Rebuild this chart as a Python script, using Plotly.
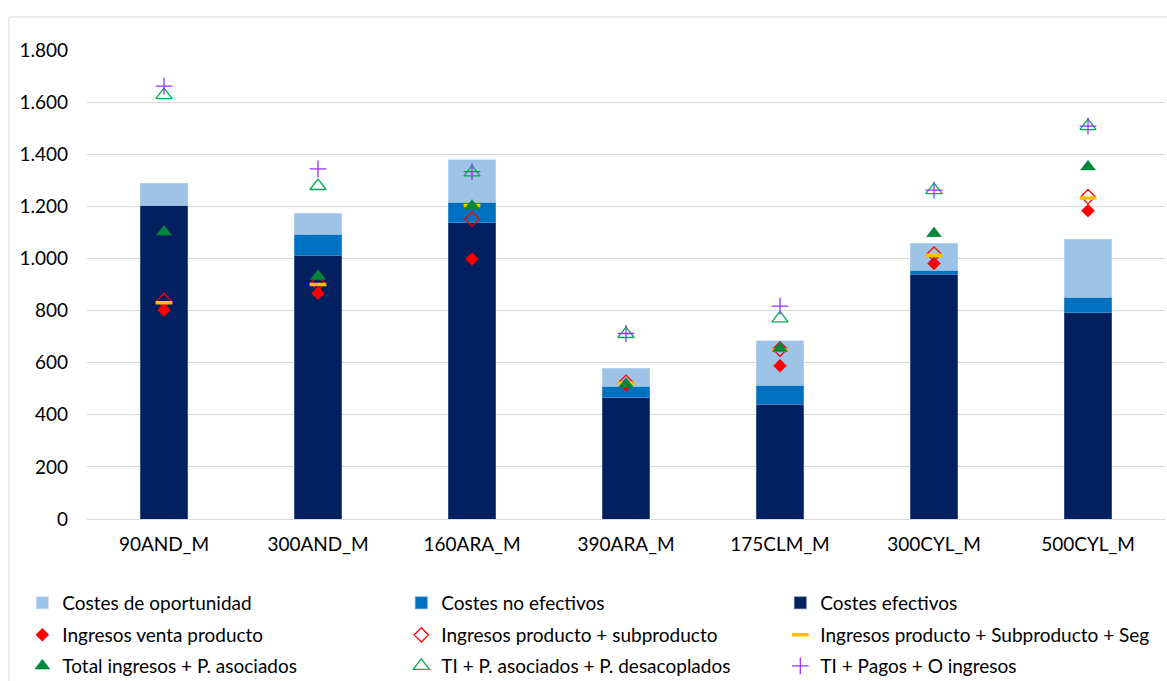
import plotly.graph_objects as go

categories = ["90AND_M", "300AND_M", "160ARA_M", "390ARA_M", "175CLM_M", "300CYL_M", "500CYL_M"]

costes_efectivos = [1205, 1012, 1137, 466, 440, 940, 792]
costes_no_efectivos = [0, 80, 79, 44, 74, 15, 60]
costes_oportunidad = [83, 81, 162, 68, 170, 103, 221]

ingresos_venta = [802, 866, 998, 515, 588, 981, 1183]
ingresos_prod_sub = [838, 905, 1151, 525, 652, 1017, 1237]
ingresos_prod_sub_seg = [830, 900, 1203, 521, 648, 1012, 1232]
total_ingresos_pa = [1102, 932, 1201, 517, 655, 1096, 1352]
ti_pa_pd = [1627, 1278, 1330, 710, 770, 1262, 1508]
ti_pagos_oi = [1661, 1344, 1333, 712, 817, 1262, 1508]

yticks = [0, 200, 400, 600, 800, 1000, 1200, 1400, 1600, 1800]

FONT = "Lato"
FS = 19
W, Hh = 1167, 681
fig = go.Figure()

# stacked bars (bottom to top)
fig.add_trace(go.Bar(x=categories, y=costes_efectivos, name="Costes efectivos",
                     marker=dict(color="#002060", line=dict(color="#5B6E99", width=0.6)),
                     legend="legend", legendrank=3))
fig.add_trace(go.Bar(x=categories, y=costes_no_efectivos, name="Costes no efectivos",
                     marker=dict(color="#0070C0", line=dict(color="#5B9BD5", width=0.6)),
                     legend="legend", legendrank=2))
fig.add_trace(go.Bar(x=categories, y=costes_oportunidad, name="Costes de oportunidad",
                     marker=dict(color="#9DC3E6", line=dict(color="#BDD7EE", width=0.6)),
                     legend="legend", legendrank=1))

def sc(y, name, symbol, size, color, lcolor, lw, legend, rank):
    fig.add_trace(go.Scatter(x=categories, y=y, name=name, mode="markers",
                             marker=dict(symbol=symbol, size=size, color=color,
                                         line=dict(color=lcolor, width=lw)),
                             legend=legend, legendrank=rank))

sc(ingresos_venta, "Ingresos venta producto", "diamond", 10, "#FF0000", "#FF0000", 0.5, "legend2", 1)
sc(ingresos_prod_sub, "Ingresos producto + subproducto", "diamond-open", 11, "#FF0000", "#FF0000", 1.3, "legend2", 2)
sc(ingresos_prod_sub_seg, "Ingresos producto + Subproducto + Seg", "line-ew", 12, "#FFC000", "#FFC000", 3.5, "legend2", 3)
sc(total_ingresos_pa, "Total ingresos + P. asociados", "triangle-up", 13, "#00873C", "#00873C", 0.5, "legend3", 1)
sc(ti_pa_pd, "TI + P. asociados + P. desacoplados", "triangle-up-open", 14, "#00B050", "#00B050", 1.3, "legend3", 2)
sc(ti_pagos_oi, "TI + Pagos + O ingresos", "cross-thin-open", 12, "#9933FF", "#9933FF", 1.3, "legend3", 3)

H = 469.0
def ly(px):
    return (519 - px) / H

leg_common = dict(orientation="h", xanchor="left", yanchor="middle", x=-0.06,
                  entrywidth=334, entrywidthmode="pixels", traceorder="normal",
                  font=dict(family=FONT, size=FS, color="#000000"),
                  bgcolor="rgba(0,0,0,0)", itemclick=False)

fig.update_layout(
    width=W, height=Hh,
    barmode="stack", bargap=0.69,
    separators=",.",
    plot_bgcolor="white", paper_bgcolor="white",
    font=dict(family=FONT, size=FS, color="#000000"),
    margin=dict(l=87, r=2, t=50, b=162, autoexpand=False),
    legend=dict(**leg_common, y=ly(603)),
    legend2=dict(**leg_common, y=ly(635)),
    legend3=dict(**leg_common, y=ly(666)),
    xaxis=dict(showline=False, ticks="", ticklabelstandoff=12, automargin=False,
               tickfont=dict(family=FONT, size=FS, color="#000000")),
    yaxis=dict(range=[0, 1800], tickvals=yticks, tickformat=",d", automargin=False,
               showgrid=True, gridcolor="#D9D9D9", gridwidth=1.3,
               zeroline=True, zerolinecolor="#D9D9D9", zerolinewidth=1.3,
               ticks="", ticklabelstandoff=18,
               tickfont=dict(family=FONT, size=FS, color="#000000")),
    shapes=[
        dict(type="line", xref="paper", yref="paper", x0=(9 - 87) / 1078, x1=1.1,
             y0=ly(17), y1=ly(17), line=dict(color="#D9D9D9", width=1)),
        dict(type="line", xref="paper", yref="paper", x0=(9 - 87) / 1078, x1=(9 - 87) / 1078,
             y0=ly(17), y1=ly(700), line=dict(color="#D9D9D9", width=1)),
    ],
)

fig.write_html("out.html", config={"displayModeBar": False},
               post_script="document.body.style.margin='0';document.body.style.overflow='hidden';")
